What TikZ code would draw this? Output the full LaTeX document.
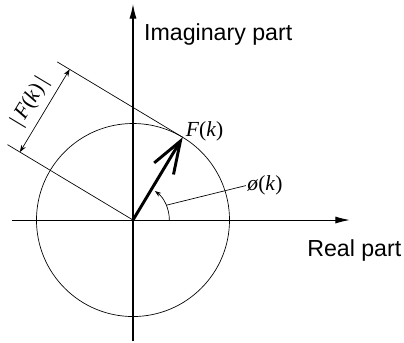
\documentclass[tikz,border=0pt]{standalone}
\usepackage{fontspec}
\setmainfont{Liberation Serif}
\newfontfamily\axisfont{Liberation Sans}
\usetikzlibrary{arrows.meta,calc}

\begin{document}
\begin{tikzpicture}[
  axis/.style={line width=0.9pt, -{Latex[length=4.5mm,width=2.2mm]}},
  thinline/.style={line width=0.6pt},
  vec/.style={line width=2.6pt, -{Straight Barb[length=10mm,width=7mm]}},
  dim/.style={line width=0.6pt, {Stealth[length=2.2mm,width=1.6mm]}-{Stealth[length=2.2mm,width=1.6mm]}},
  axlabel/.style={font=\axisfont\fontsize{20.5}{24}\selectfont, anchor=base west, inner sep=0pt},
  mlabel/.style={font=\fontsize{19}{22}\selectfont, inner sep=1pt}
]
\useasboundingbox (-4.134,-3.792) rectangle (8.424,6.839);
\coordinate (O) at (0,0);
\coordinate (xl) at (-3.76,0);
\coordinate (xr) at (6.74,0);
\coordinate (yb) at (0,-3.76);
\coordinate (yt) at (0,6.71);
\coordinate (F) at (59:3);

\draw[thinline] (O) circle (3);
\draw[axis] (xl) -- (xr);
\draw[axis] (yb) -- (yt);
\node[axlabel] (re) at (5.41,-1.14) {Real part};
\node[axlabel] (im) at (0.34,5.57) {Imaginary part};

% vector and its length
\draw[vec] (O) -- (F);
\node[mlabel, anchor=base west] (fk) at (1.60,2.61) {\textit{F}(\textit{k})};
\coordinate (Fend) at ($(F)+(149:4.55)$);
\coordinate (Oend) at ($(O)+(149:4.55)$);
\draw[thinline] (F) -- (Fend);
\draw[thinline] (O) -- (Oend);
\coordinate (da) at ($(O)+(149:4.1)$);
\coordinate (db) at ($(F)+(149:4.1)$);
\draw[dim] (da) -- node[mlabel, above=0.18cm, sloped] (mag) {|\,\textit{F}(\textit{k})\,|} (db);

% phase angle
\draw[thinline, -{Stealth[length=2mm,width=1.4mm]}] (1.13,0) arc[start angle=0, end angle=53, radius=1.13];
\coordinate (arcp) at (24:1.13);
\node[mlabel, anchor=base west] (phi) at (3.51,0.91) {\textit{ø}(\textit{k})};
\draw[thinline] (phi.west) -- (arcp);
\end{tikzpicture}
\end{document}
